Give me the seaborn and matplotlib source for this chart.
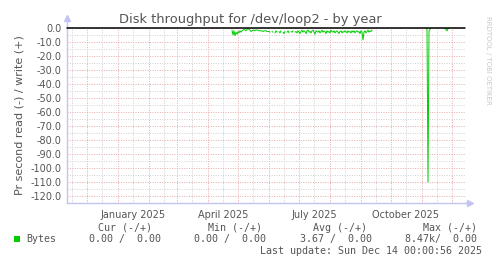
import numpy as np
import pandas as pd
import matplotlib
matplotlib.use("Agg")
import matplotlib.pyplot as plt
import matplotlib.dates as mdates
from matplotlib.patches import Rectangle
import seaborn as sns

# ---------------- data ----------------
title = "Disk throughput for /dev/loop2 - by year"
ylabel = "Pr second read (-) / write (+)"
x_start = "2024-11-11"
x_end = "2025-12-14"
label_months = ["January 2025", "April 2025", "July 2025", "October 2025"]

# read values (plotted negative), daily, segment 1
seg1_start = "2025-04-25"
seg1_values = [
    -1.5, -5.0, -2.0, -5.5, -3.0, -4.5, -2.5, -3.5, -2.0, -3.0, -2.0, -1.5,
    -1.0, -1.5, -2.0, -1.0, -0.5, -1.0, -1.5, -2.5, -2.0, -1.5, -1.5, -2.0, -1.5, -1.5,
    -1.5, -2.0, -2.0, -2.0, -2.0, -2.5, -2.0, -2.0, -2.0, -2.5, -2.5, -2.5,
    -3.0, np.nan, -2.5, -3.0, np.nan, -3.5, -2.0, -3.0, np.nan, -2.5, -3.5, -2.0, np.nan,
    -3.0, -4.0, -2.5, np.nan, -3.0, -2.0, -3.5, np.nan, -2.5, -3.0, -2.0, np.nan, -3.0, -2.5,
    -3.5, -2.0, -3.0, -4.0, -2.5, -1.5, -3.0, -2.0, -2.5, -4.0, -2.0, -1.5, -3.0, -2.5,
    -3.5, -2.0, -1.5, -3.0, -4.5, -2.0, -2.5, -3.0, -2.0, -3.5, -2.5, -1.5, -3.0, -2.0,
    -2.5, -4.0, -2.0, -3.0, -2.5, -3.5, -1.5, -2.5, -3.0, -2.0, -3.5, -2.5, -2.0, -3.0,
    -4.0, -2.5, -2.0, -3.5, -2.5, -3.0, -2.0, -2.5, -3.5, -2.0, -3.0, -2.5, -3.5, -2.0,
    -3.0, -2.0, -3.5, -2.5, -2.0, -3.0, -2.5, -4.0, -2.0, -3.0, -8.5, -3.0, -2.0, -3.5,
    -2.5, -1.5, -3.0, -2.0, -2.5, -1.5,
]
spike_start = "2025-11-05"
spike_values = [0.0, -1.0, -110.0, -2.0, -1.0, 0.0]
blip_start = "2025-11-23"
blip_values = [0.0, -0.5, -1.0, -2.0, -0.5, 0.0]

legend_cols = ["Cur (-/+)", "Min (-/+)", "Avg (-/+)", "Max (-/+)"]
legend_vals = ["0.00 /  0.00", "0.00 /  0.00", "3.67 /  0.00", "8.47k/  0.00"]
series_name = "Bytes"
last_update = "Last update: Sun Dec 14 00:00:56 2025"
watermark = "RRDTOOL / TOBI OETIKER"

# ---------------- build frame ----------------
frames = []
seg_id = 0
for start, vals in [(seg1_start, seg1_values), (spike_start, spike_values), (blip_start, blip_values)]:
    dates = pd.date_range(start, periods=len(vals), freq="D")
    v = np.array(vals, dtype=float)
    isnan = np.isnan(v)
    ids = np.cumsum(isnan) + seg_id
    seg_id = ids.max() + 1
    frames.append(pd.DataFrame({"date": dates, "value": v, "seg": ids})[~isnan])
df = pd.concat(frames, ignore_index=True)

# ---------------- style ----------------
sns.set_style("white")
plt.rcParams["font.family"] = ["DejaVu Sans"]
txt = "#555555"
red = "#e8a8a8"
gray = "#cfcfcf"
axis_c = "#c4c4f4"
green = "#00cc00"

W, H = 497, 264
fig = plt.figure(figsize=(W / 100, H / 100), dpi=100)
fig.patch.set_facecolor("white")
L, R, T, B = 67, 465, 28, 203
ax = fig.add_axes([L / W, 1 - B / H, (R - L) / W, (B - T) / H])
ax.set_facecolor("white")

sns.lineplot(data=df, x="date", y="value", units="seg", estimator=None,
             color=green, linewidth=0.7, ax=ax, legend=False, zorder=3)

ax.set_xlim(pd.Timestamp(x_start), pd.Timestamp(x_end))
ax.set_ylim(-125, 0)

# y ticks
ax.set_yticks(np.arange(-120, 1, 10))
ax.set_yticklabels([f"{v:.1f}" for v in np.arange(-120, 1, 10)])
ax.set_yticks(np.arange(-125, 1, 5), minor=True)

# x ticks: month starts major (red), mid-month minor (gray, with labels)
ax.xaxis.set_major_locator(mdates.MonthLocator())
ax.xaxis.set_major_formatter(plt.NullFormatter())
ax.xaxis.set_minor_locator(mdates.MonthLocator(bymonthday=16))
lab = {1: label_months[0], 4: label_months[1], 7: label_months[2], 10: label_months[3]}
def fmt(x, pos):
    d = mdates.num2date(x)
    if d.year == 2025 and d.month in lab:
        return lab[d.month]
    return ""
ax.xaxis.set_minor_formatter(plt.FuncFormatter(fmt))

ax.grid(which="minor", color=gray, linestyle=(0, (1, 1.5)), linewidth=0.7)
ax.grid(which="major", color=red, linestyle=(0, (1, 1.5)), linewidth=0.7)
ax.set_axisbelow(True)

ax.tick_params(axis="x", which="major", length=3, color=red, width=0.7, direction="out")
ax.tick_params(axis="x", which="minor", length=0, labelsize=7, labelcolor=txt, pad=5)
ax.tick_params(axis="y", which="both", length=0, labelsize=7, labelcolor=txt, pad=4)

for s in ["top", "right"]:
    ax.spines[s].set_visible(False)
for s in ["left", "bottom"]:
    ax.spines[s].set_color(axis_c)
    ax.spines[s].set_linewidth(1)

# zero line
ax.axhline(0, color="black", linewidth=1.1, zorder=4, clip_on=False)

# axis arrows
ax.plot([0, 0], [1, 1.06], transform=ax.transAxes, color=axis_c, lw=1, clip_on=False)
ax.plot([0], [1.06], transform=ax.transAxes, marker="^", color=axis_c, markersize=4, clip_on=False)
ax.plot([1, 1.012], [0, 0], transform=ax.transAxes, color=axis_c, lw=1, clip_on=False)
ax.plot([1.012], [0], transform=ax.transAxes, marker=">", color=axis_c, markersize=4, clip_on=False)

ax.set_xlabel("")
ax.set_ylabel(ylabel, fontsize=8, color=txt, labelpad=4)

# title
fig.text(250 / W, 1 - 19 / H, title, ha="center", va="center", fontsize=9.4, color=txt)
# watermark
fig.text(488 / W, 1 - 60 / H, watermark, ha="center", va="center", rotation=270,
         fontsize=5, color="#c8c8c8")

# legend block
mono = "DejaVu Sans Mono"
val_right = [161, 266, 372, 477]
col_right = [152, 262, 367, 477]
for cr, c, v, vr in zip(col_right, legend_cols, legend_vals, val_right):
    fig.text(cr / W, 1 - 228 / H, c, ha="right", va="center", fontsize=7.2, color=txt, family=mono)
    fig.text(vr / W, 1 - 239 / H, v, ha="right", va="center", fontsize=7.2, color=txt, family=mono)
fig.add_artist(Rectangle((14 / W, 1 - 242 / H), 6 / W, 6 / H, transform=fig.transFigure,
                         facecolor=green, edgecolor="none"))
fig.text(26 / W, 1 - 239 / H, series_name, ha="left", va="center", fontsize=7.2, color=txt, family=mono)
fig.text(482 / W, 1 - 251 / H, last_update, ha="right", va="center", fontsize=7.2, color=txt, family=mono)

fig.savefig("out.png", dpi=100, facecolor="white")
